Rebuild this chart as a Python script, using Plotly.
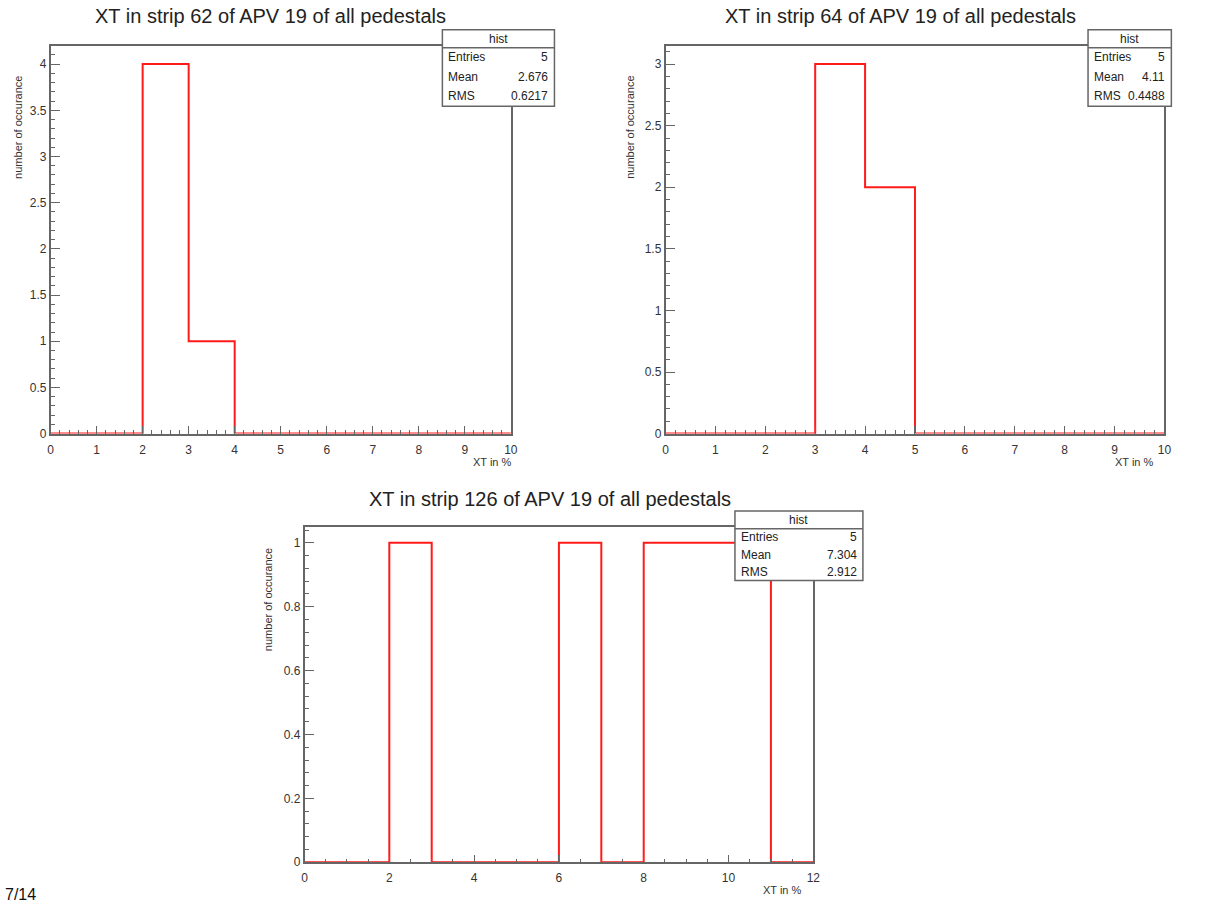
import plotly.graph_objects as go

W, H = 1221, 904

# ---------------- data ----------------
titles = ["XT in strip 62 of APV 19 of all pedestals",
          "XT in strip 64 of APV 19 of all pedestals",
          "XT in strip 126 of APV 19 of all pedestals"]

edges1 = [0, 1, 2, 3, 4, 5, 6, 7, 8, 9, 10]
counts1 = [0, 0, 4, 1, 0, 0, 0, 0, 0, 0]

edges2 = [0, 1, 2, 3, 4, 5, 6, 7, 8, 9, 10]
counts2 = [0, 0, 0, 3, 2, 0, 0, 0, 0, 0]

edges3 = [0, 1, 2, 3, 4, 5, 6, 7, 8, 9, 10, 11, 12]
counts3 = [0, 0, 1, 0, 0, 0, 1, 0, 1, 1, 1, 0]

stat_labels = ["Entries", "Mean", "RMS"]
stats1 = ["5", "2.676", "0.6217"]
stats2 = ["5", "4.11", "0.4488"]
stats3 = ["5", "7.304", "2.912"]

x_title = "XT in %"
y_title = "number of occurance"
page_label = "7/14"


def px(x):
    return x / W


def py(y):
    return 1 - y / H


fig = go.Figure()

RED = "#ff1a1a"
FRAME = "#666666"
TXT = "#333333"
FONT = "Liberation Sans, Arial"

panels = [
    dict(edges=edges1, counts=counts1, xd=(48, 512), yd=(46, 437), yr=4.2, ydt=0.5, ymin=0.1,
         xdt=1, xmin=0.2, title=titles[0], tx=270, ty=16, stats=stats1,
         box=(443, 30, 556, 107), ylab=(15, 128), xlab=(494, 466)),
    dict(edges=edges2, counts=counts2, xd=(668, 1171), yd=(46, 437), yr=3.15, ydt=0.5, ymin=0.1,
         xdt=1, xmin=0.2, title=titles[1], tx=905, ty=16, stats=stats2,
         box=(1094, 30, 1178, 107), ylab=(632, 128), xlab=(1141, 466)),
    dict(edges=edges3, counts=counts3, xd=(304, 817), yd=(531, 869), yr=1.05, ydt=0.2, ymin=0.04,
         xdt=2, xmin=0.5, title=titles[2], tx=552, ty=503, stats=stats3,
         box=(738, 515, 867, 585), ylab=(268, 604), xlab=(786, 897)),
]

annotations = []
shapes = []

for i, p in enumerate(panels, start=1):
    xs = list(p["edges"])
    ys = list(p["counts"]) + [p["counts"][-1]]
    # step outline as ROOT draws it
    xs_plot = [xs[0]] + xs + [xs[-1]]
    ys_plot = [0] + ys + [0]
    xa = "x" if i == 1 else f"x{i}"
    ya = "y" if i == 1 else f"y{i}"
    fig.add_trace(go.Scatter(x=xs_plot, y=ys_plot, mode="lines", line_shape="hv",
                             line=dict(color=RED, width=2), xaxis=xa, yaxis=ya,
                             showlegend=False, hoverinfo="skip"))
    xkey = "xaxis" if i == 1 else f"xaxis{i}"
    ykey = "yaxis" if i == 1 else f"yaxis{i}"
    fig.update_layout({
        xkey: dict(domain=[px(p["xd"][0]), px(p["xd"][1])], anchor=ya,
                   range=[p["edges"][0], p["edges"][-1]], dtick=p["xdt"], tick0=0,
                   ticks="inside", ticklen=8, tickcolor=FRAME, showline=True, mirror=True,
                   linecolor=FRAME, linewidth=1.5, showgrid=False, zeroline=False,
                   ticklabelstandoff=4,
                   tickfont=dict(family=FONT, size=12, color=TXT),
                   minor=dict(dtick=p["xmin"], ticks="inside", ticklen=4, tickcolor=FRAME)),
        ykey: dict(domain=[py(p["yd"][1]), py(p["yd"][0])], anchor=xa,
                   range=[0, p["yr"]], dtick=p["ydt"], tick0=0,
                   ticks="inside", ticklen=10, tickcolor=FRAME, showline=True, mirror=True,
                   linecolor=FRAME, linewidth=1.5, showgrid=False, zeroline=False,
                   tickfont=dict(family=FONT, size=12, color=TXT),
                   minor=dict(dtick=p["ymin"], ticks="inside", ticklen=5, tickcolor=FRAME)),
    })
    # title
    annotations.append(dict(text=p["title"], x=px(p["tx"]), y=py(p["ty"]), xref="paper", yref="paper",
                            xanchor="center", yanchor="middle", showarrow=False,
                            font=dict(family=FONT, size=20, color="#222222")))
    # axis titles
    annotations.append(dict(text=x_title, x=px(p["xlab"][0]), y=py(p["xlab"][1]), xref="paper", yref="paper",
                            xanchor="center", yanchor="middle", showarrow=False,
                            font=dict(family=FONT, size=11, color=TXT)))
    annotations.append(dict(text=y_title, x=px(p["ylab"][0]), y=py(p["ylab"][1]), xref="paper", yref="paper",
                            xanchor="center", yanchor="middle", showarrow=False, textangle=-90,
                            font=dict(family=FONT, size=11, color=TXT)))
    # stats box
    x0, y0, x1, y1 = p["box"]
    shapes.append(dict(type="rect", xref="paper", yref="paper", x0=px(x0), x1=px(x1), y0=py(y1), y1=py(y0),
                       fillcolor="white", line=dict(color=FRAME, width=1.5), layer="above"))
    hdr = y0 + 18
    shapes.append(dict(type="line", xref="paper", yref="paper", x0=px(x0), x1=px(x1), y0=py(hdr), y1=py(hdr),
                       line=dict(color=FRAME, width=1.5), layer="above"))
    annotations.append(dict(text="hist", x=px((x0 + x1) / 2), y=py(y0 + 9), xref="paper", yref="paper",
                            xanchor="center", yanchor="middle", showarrow=False,
                            font=dict(family=FONT, size=12, color="#222222")))
    rowh = (y1 - hdr) / 3
    for k, (lab, val) in enumerate(zip(stat_labels, p["stats"])):
        yy = hdr + rowh * (k + 0.5)
        annotations.append(dict(text=lab, x=px(x0 + 4), y=py(yy), xref="paper", yref="paper",
                                xanchor="left", yanchor="middle", showarrow=False,
                                font=dict(family=FONT, size=12, color="#222222")))
        annotations.append(dict(text=val, x=px(x1 - 4), y=py(yy), xref="paper", yref="paper",
                                xanchor="right", yanchor="middle", showarrow=False,
                                font=dict(family=FONT, size=12, color="#222222")))

annotations.append(dict(text=page_label, x=0, y=py(901), xref="paper", yref="paper",
                        xanchor="left", yanchor="middle", showarrow=False,
                        font=dict(family=FONT, size=16, color="#111111")))

fig.update_layout(width=W, height=H, margin=dict(l=0, r=0, t=0, b=0),
                  paper_bgcolor="white", plot_bgcolor="white",
                  annotations=annotations, shapes=shapes, showlegend=False)

fig.write_html("out.html")
